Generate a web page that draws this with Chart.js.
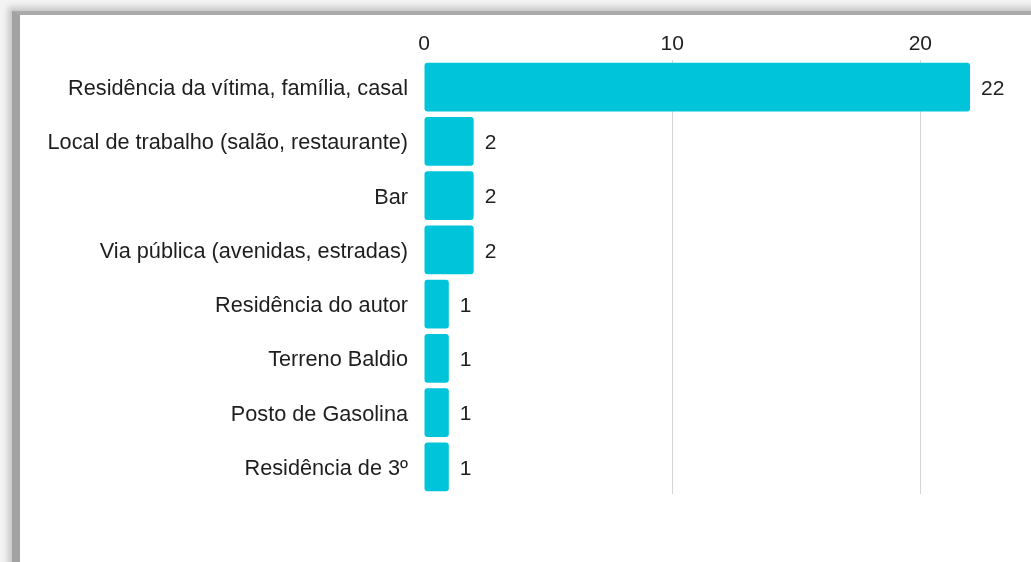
<!DOCTYPE html>
<html>
<head>
<meta charset="utf-8">
<script src="https://cdn.jsdelivr.net/npm/chart.js@4"></script>
<style>
    html, body { margin: 0; padding: 0; }
    body { width: 1031px; height: 562px; overflow: hidden; background: #f3f3f3; position: relative; }
    .frame {
        position: absolute; left: 12px; top: 11px; width: 1030px; height: 560px;
        background: #ffffff;
        border-left: 8px solid #a2a2a2;
        border-top: 4px solid #aaaaaa;
        box-shadow: -4px -4px 6px rgba(0, 0, 0, 0.18);
    }
    #chart { position: absolute; left: 0; top: 0; }
</style>
</head>
<body>
<div class="frame">
    <canvas id="chart" width="1011" height="547"></canvas>
</div>
<script>
// ===== DONNÉES =====
const categories = [
    'Residência da vítima, família, casal',
    'Local de trabalho (salão, restaurante)',
    'Bar',
    'Via pública (avenidas, estradas)',
    'Residência do autor',
    'Terreno Baldio',
    'Posto de Gasolina',
    'Residência de 3º'
];
const counts = [22, 2, 2, 2, 1, 1, 1, 1];
const tickValues = [0, 10, 20];

const FONT = "'Liberation Sans', Arial, sans-serif";

// étiquettes de valeur à droite des barres
const valueLabels = {
    id: 'valueLabels',
    afterDatasetsDraw(chart) {
        const ctx = chart.ctx;
        const meta = chart.getDatasetMeta(0);
        ctx.save();
        ctx.font = '21px ' + FONT;
        ctx.fillStyle = '#1e1e1e';
        ctx.textAlign = 'left';
        ctx.textBaseline = 'middle';
        meta.data.forEach((bar, i) => {
            ctx.fillText(String(counts[i]), bar.x + 11, bar.y + 2);
        });
        ctx.restore();
    }
};

new Chart(document.getElementById('chart'), {
    type: 'bar',
    data: {
        labels: categories,
        datasets: [{
            data: counts,
            backgroundColor: '#00c5da',
            borderRadius: 3,
            borderSkipped: false,
            categoryPercentage: 1,
            barPercentage: 0.9
        }]
    },
    options: {
        indexAxis: 'y',
        responsive: false,
        animation: false,
        layout: { padding: { top: 0, right: 61, bottom: 68, left: 0 } },
        plugins: {
            legend: { display: false },
            tooltip: { enabled: false }
        },
        scales: {
            x: {
                position: 'top',
                min: 0,
                max: 22,
                afterBuildTicks: scale => { scale.ticks = tickValues.map(v => ({ value: v })); },
                afterFit: scale => { scale.height = 45; },
                grid: {
                    color: c => (c.tick && c.tick.value === 0 ? 'rgba(0,0,0,0)' : '#d4d4d4'),
                    lineWidth: 1,
                    drawTicks: false
                },
                border: { display: false },
                ticks: { color: '#1e1e1e', font: { size: 21, family: FONT }, padding: 3 }
            },
            y: {
                afterFit: scale => { scale.width = 404; },
                grid: { display: false },
                border: { display: false },
                ticks: { color: '#1e1e1e', font: { size: 21.7, family: FONT }, padding: 8, labelOffset: 2 }
            }
        }
    },
    plugins: [valueLabels]
});
</script>
</body>
</html>
